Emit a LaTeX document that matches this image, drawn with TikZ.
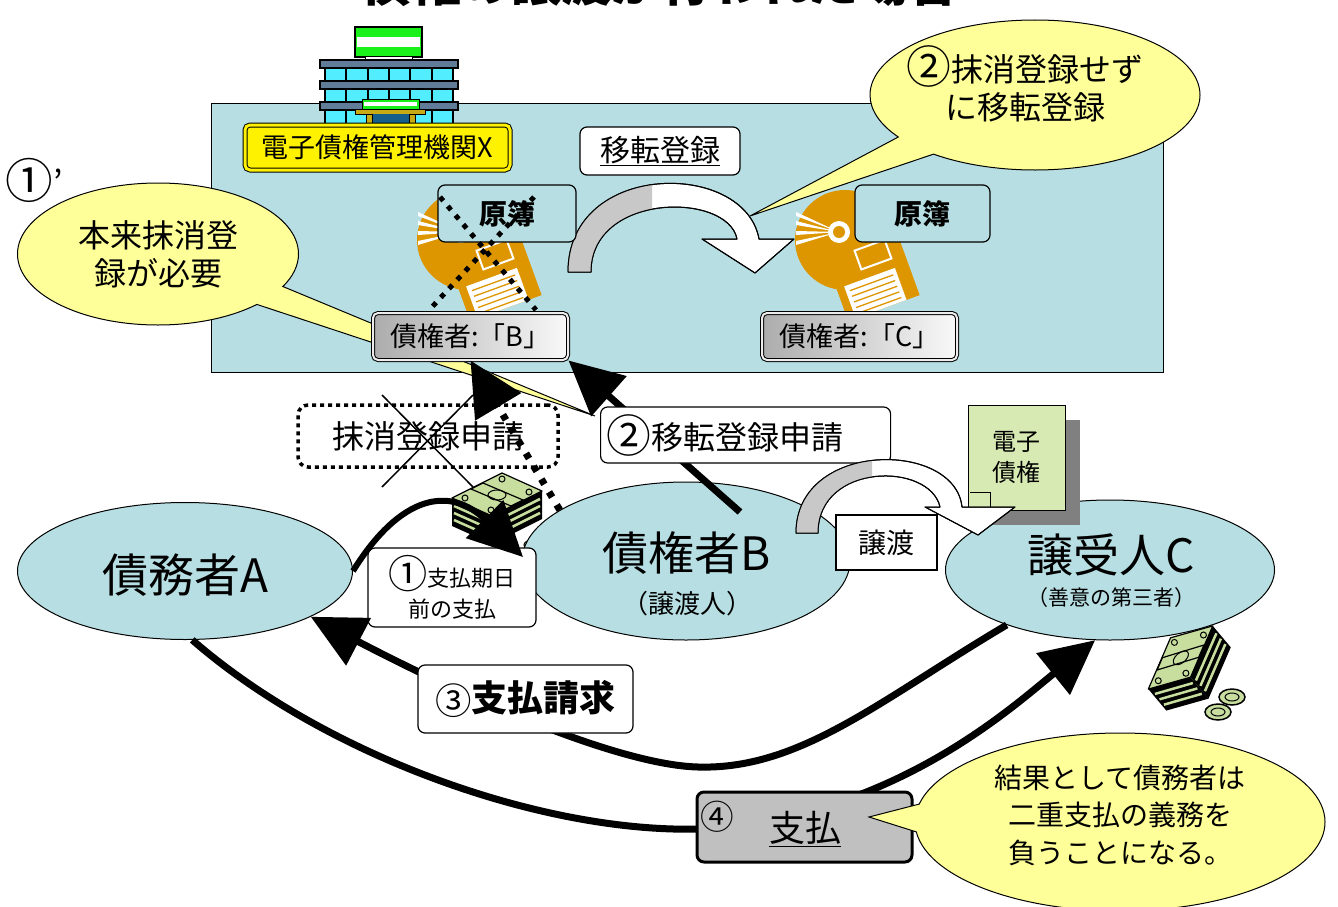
\documentclass[tikz,border=0pt]{standalone}
\usepackage{fontspec}
\usepackage{graphicx}
\setmainfont{Noto Sans CJK JP}
\usetikzlibrary{shapes.geometric,shapes.callouts,arrows.meta}
\definecolor{regblue}{RGB}{183,223,227}
\definecolor{noteyellow}{RGB}{255,255,153}
\definecolor{diskorange}{RGB}{221,150,0}
\definecolor{signgreen}{RGB}{26,240,26}
\definecolor{wincyan}{RGB}{82,238,255}
\definecolor{floorgray}{RGB}{96,124,152}
\definecolor{canopy}{RGB}{200,170,20}
\definecolor{doorblue}{RGB}{20,95,140}
\definecolor{moneygreen}{RGB}{200,222,158}
\definecolor{docgreen}{RGB}{216,234,180}
\definecolor{docshadow}{RGB}{128,128,128}
\definecolor{arcgray}{RGB}{200,200,200}
\definecolor{paygray}{RGB}{192,192,192}
\newcommand\fsz[2]{\fontsize{#1}{#2}\selectfont}
\newcommand\cnum[1]{\raisebox{-0.08em}{\scalebox{1.4}{#1}}}

\begin{document}
\begin{tikzpicture}[x=1pt, y=-1pt,
    every node/.append style={inner sep=0pt},
    party/.style={ellipse, draw, fill=regblue, line width=1pt},
    labelbox/.style={draw, fill=white, rounded corners=7pt, line width=1.2pt},
    ledger/.style={draw, fill=regblue, rounded corners=7pt, line width=1.2pt, font=\bfseries\fsz{28}{28}},
    credbox/.style={draw, rounded corners=5pt, line width=1pt, double=gray!15, double distance=2pt,
      left color=gray!65, right color=gray!5, font=\fsz{27}{27}},
    note/.style={ellipse callout, draw, fill=noteyellow, line width=1pt, callout pointer arc=18},
    bigarrow/.style={line width=7pt, -{Triangle[length=54pt, width=52pt]}},
    crossdots/.style={line width=5pt, dash pattern=on 5pt off 7pt},
    bandarrow/.style={draw, line width=1pt, line join=round}]
  \useasboundingbox (0,0) rectangle (1338,907);
  \node[font=\bfseries\fsz{50}{50}, anchor=base] (title) at (660,2) {債権の譲渡が行われた場合};

  \draw[fill=regblue, line width=1pt] (211,103) rectangle (1163,372);

  \draw[fill=signgreen, line width=1.5pt] (355,27) rectangle (422,57);
  \fill[white] (357,37) rectangle (420,47);
  \draw[fill=white, line width=1pt] (365,57) rectangle (412,60);
  \foreach \wy in {68,89,110} {
    \draw[fill=wincyan, line width=1.5pt] (325,\wy) rectangle (453,\wy+14);
    \foreach \wx in {346,368,389,410,432} \draw[line width=2pt] (\wx,\wy) -- (\wx,\wy+14);
  }
  \foreach \sy in {60,81,102} \draw[fill=floorgray, line width=1.5pt] (320,\sy) rectangle (458,\sy+8);
  \draw[fill=signgreen, line width=1pt] (362,99) rectangle (419,109);
  \fill[white] (364,102) rectangle (417,106);
  \draw[fill=canopy, line width=1pt] (355,109) rectangle (425,114);
  \fill[doorblue] (372,114) rectangle (409,125);
  \draw[fill=canopy] (366,114) rectangle (372,125) (409,114) rectangle (415,125);
  \node[draw, fill=yellow, line width=1pt, double=yellow, double distance=3pt, rounded corners=5pt,
    minimum width=265pt, minimum height=45pt, font=\fsz{27}{27}] (agency) at (377.5,147.5) {電子債権管理機関X};

  \node[labelbox, minimum width=160pt, minimum height=48pt, font=\fsz{30}{30}] (regnote) at (660,151) {\underline{移転登録}};

  \path[bandarrow, fill=white] (568,272) .. controls (568,160) and (745,160) .. (759,239) -- (794,239) -- (755,273)
    -- (702,239) -- (737,239) .. controls (728,192) and (591,192) .. (591,272) -- cycle;
  \begin{scope}
    \clip (540,150) rectangle (652,290);
    \fill[arcgray] (568,272) .. controls (568,160) and (745,160) .. (759,239) -- (737,239)
      .. controls (728,192) and (591,192) .. (591,272) -- cycle;
  \end{scope}
  \draw[line width=1pt, line join=round] (568,272) .. controls (568,160) and (745,160) .. (759,239) -- (794,239) -- (755,273)
    -- (702,239) -- (737,239) .. controls (728,192) and (591,192) .. (591,272) -- cycle;

  \foreach \cx in {467,845} {
    \fill[diskorange] (\cx,240) circle (50);
    \foreach \ry in {212,221,231,241} \fill[white] (\cx-6,232) -- (\cx-49,\ry) -- (\cx-49,\ry+4) -- cycle;
    \fill[white] (\cx-6,232) circle (11);
    \fill[diskorange] (\cx-6,232) circle (6);
    \begin{scope}[shift={(\cx+28,278)}, rotate=20]
      \fill[diskorange] (-38,-32) rectangle (38,32);
      \draw[white, line width=2pt] (-8,-32) rectangle (24,-12);
      \fill[white] (-30,-2) rectangle (24,32);
      \foreach \ly in {4,10,...,28} \draw[diskorange, line width=1.3pt] (-26,\ly) -- (20,\ly);
    \end{scope}
  }
  \node[ledger, minimum width=138pt, minimum height=57pt] (ledgerB) at (507,213.5) {原簿};
  \node[ledger, minimum width=135pt, minimum height=57pt] (ledgerC) at (922.5,213.5) {原簿};
  \draw[crossdots] (440,197) -- (536,310) (534,197) -- (432,307);

  \node[note, minimum width=281pt, minimum height=142pt, align=center, font=\fsz{32}{38},
    callout absolute pointer={(595,416)}] (noteA) at (158,254) {本来抹消登\\録が必要};
  \node[font=\fsz{34}{34}] (primeone) at (34,180) {\cnum{①}’};
  \node[note, minimum width=330pt, minimum height=150pt, callout absolute pointer={(750,216)}] (noteB) at (1035,95) {};
  \node[align=center, font=\fsz{32}{38}] (noteBtext) at (1025,84) {\cnum{②}抹消登録せず\\に移転登録};

  \node[credbox, minimum width=195pt, minimum height=47pt] (credBbox) at (470.5,336.5) {債権者:「B」};
  \node[credbox, minimum width=195pt, minimum height=47pt] (credCbox) at (859.5,336.5) {債権者:「C」};

  \draw[fill=moneygreen, line width=1pt] (532,545) ellipse (8 and 5);
  \node[party, minimum width=335pt, minimum height=137pt] (partyA) at (185,571) {};
  \node[party, minimum width=328pt, minimum height=158pt] (partyB) at (686,561) {};
  \node[party, minimum width=329pt, minimum height=140pt] (partyC) at (1110,570) {};
  \node[font=\fsz{46}{46}] (nameA) at (185,575) {債務者A};
  \node[font=\fsz{46}{46}] (nameB) at (687,553) {債権者B};
  \node[font=\fsz{26}{26}] (roleB) at (687,604) {（譲渡人）};
  \node[font=\fsz{46}{46}] (nameC) at (1111,555) {譲受人C};
  \node[font=\fsz{21}{21}] (roleC) at (1111,598) {（善意の第三者）};

  \foreach \mx/\my/\mr in {497/503/0, 1186/664/40} {
    \begin{scope}[shift={(\mx,\my)}, rotate=\mr]
      \fill[black] (-45,-5) -- (-5,13) -- (-5,41) -- (-45,23) -- cycle;
      \fill[black] (-5,13) -- (45,-12) -- (45,16) -- (-5,41) -- cycle;
      \foreach \k in {7,14,21} {
        \draw[moneygreen, line width=2.5pt] (-43,-4+\k) -- (-7,12+\k);
        \draw[moneygreen, line width=2.5pt] (-3,12+\k) -- (43,-11+\k);
      }
      \draw[fill=moneygreen, line width=1.2pt, line join=round] (-45,-5) -- (5,-30) -- (45,-12) -- (-5,13) -- cycle;
      \draw[fill=moneygreen, line width=1.2pt] (-26,-14) -- (-14,-20) -- (26,-3) -- (14,3) -- cycle;
      \draw[line width=1pt] (0,-8) ellipse (9 and 5);
      \foreach \px/\py in {-32/-5, 5/-24, 32/-11, -6/7} \draw[line width=1pt] (\px,\py) circle (3);
    \end{scope}
  }
  \foreach \kx/\ky in {1218/712, 1232/697} {
    \draw[fill=moneygreen, line width=1.5pt] (\kx,\ky) ellipse (13 and 8);
    \draw[line width=1pt] (\kx,\ky) ellipse (7 and 4);
  }

  \node[draw, line width=3.5pt, dash pattern=on 4pt off 4pt, rounded corners=10pt, minimum width=260pt,
    minimum height=62pt, font=\fsz{32}{32}] (cancelreq) at (428,436) {抹消登録申請};
  \draw[line width=1.5pt] (382,395) -- (473,487) (473,395) -- (382,487);

  \node[labelbox, minimum width=168pt, minimum height=79pt, align=center, font=\fsz{22}{31}] (payEarly) at (452,587.5)
    {{\fsz{28}{31}\cnum{①}}支払期日\\前の支払};
  \coordinate (earlytip) at (523,557);
  \coordinate (regstart) at (740,512);

  \draw[bigarrow, dash pattern=on 6pt off 9pt] (partyB.158) -- (credBbox.south);
  \draw[bigarrow] (regstart) -- (credBbox.south east);
  \draw[bigarrow, line width=6pt] (partyA.east) .. controls (400,495) and (450,485) .. (earlytip);
  \draw[bigarrow] (partyC.208) .. controls (880,700) and (800,770) .. (698,767)
    .. controls (620,765) and (470,700) .. (partyA.340);
  \draw[bigarrow] (partyA.276) .. controls (330,760) and (560,840) .. (720,828)
    .. controls (900,810) and (1011,708) .. (partyC.258);

  \node[labelbox, anchor=west, text width=278pt, align=left, inner xsep=6pt, minimum height=56pt,
    font=\fsz{32}{32}] (regreq) at (600,435) {\cnum{②}移転登録申請};
  \node[labelbox, minimum width=215pt, minimum height=68pt, font=\bfseries\fsz{36}{36}] (claim) at (525.5,699)
    {{\mdseries\fsz{26}{36}\cnum{③}}支払請求};
  \node[draw, fill=paygray, rounded corners=7pt, line width=3pt, minimum width=215pt, minimum height=70pt] (payment) at (804.5,827) {};
  \node[font=\fsz{24}{24}] (paynum) at (717,817) {\cnum{④}};
  \node[font=\fsz{36}{36}] (paytext) at (805,829) {\underline{支払}};

  \fill[docshadow] (983,420) rectangle (1080,525);
  \node[draw, fill=docgreen, line width=1pt, minimum width=97pt, minimum height=105pt, align=center,
    font=\fsz{24}{31}] (ebond) at (1016.5,457.5) {電子\\債権};
  \draw[line width=1pt] (970,492) -| (990,510);

  \path[bandarrow, fill=white] (796,533) .. controls (796,440) and (955,440) .. (962,507) -- (1015,507) -- (978,535)
    -- (925,507) -- (940,507) .. controls (930,462) and (818,462) .. (818,533) -- cycle;
  \begin{scope}
    \clip (780,440) rectangle (872,540);
    \fill[arcgray] (796,533) .. controls (796,440) and (955,440) .. (962,507) -- (940,507)
      .. controls (930,462) and (818,462) .. (818,533) -- cycle;
  \end{scope}
  \draw[line width=1pt, line join=round] (796,533) .. controls (796,440) and (955,440) .. (962,507) -- (1015,507) -- (978,535)
    -- (925,507) -- (940,507) .. controls (930,462) and (818,462) .. (818,533) -- cycle;
  \node[draw, fill=white, line width=1.2pt, minimum width=101pt, minimum height=55pt, font=\fsz{28}{28}] (transfer) at (886.5,542.5) {譲渡};

  \node[note, minimum width=410pt, minimum height=178pt, callout absolute pointer={(869,817)}] (noteC) at (1120,822) {};
  \node[align=center, font=\fsz{28}{37.5}] (noteCtext) at (1120,815) {結果として債務者は\\二重支払の義務を\\負うことになる。};
\end{tikzpicture}
\end{document}
